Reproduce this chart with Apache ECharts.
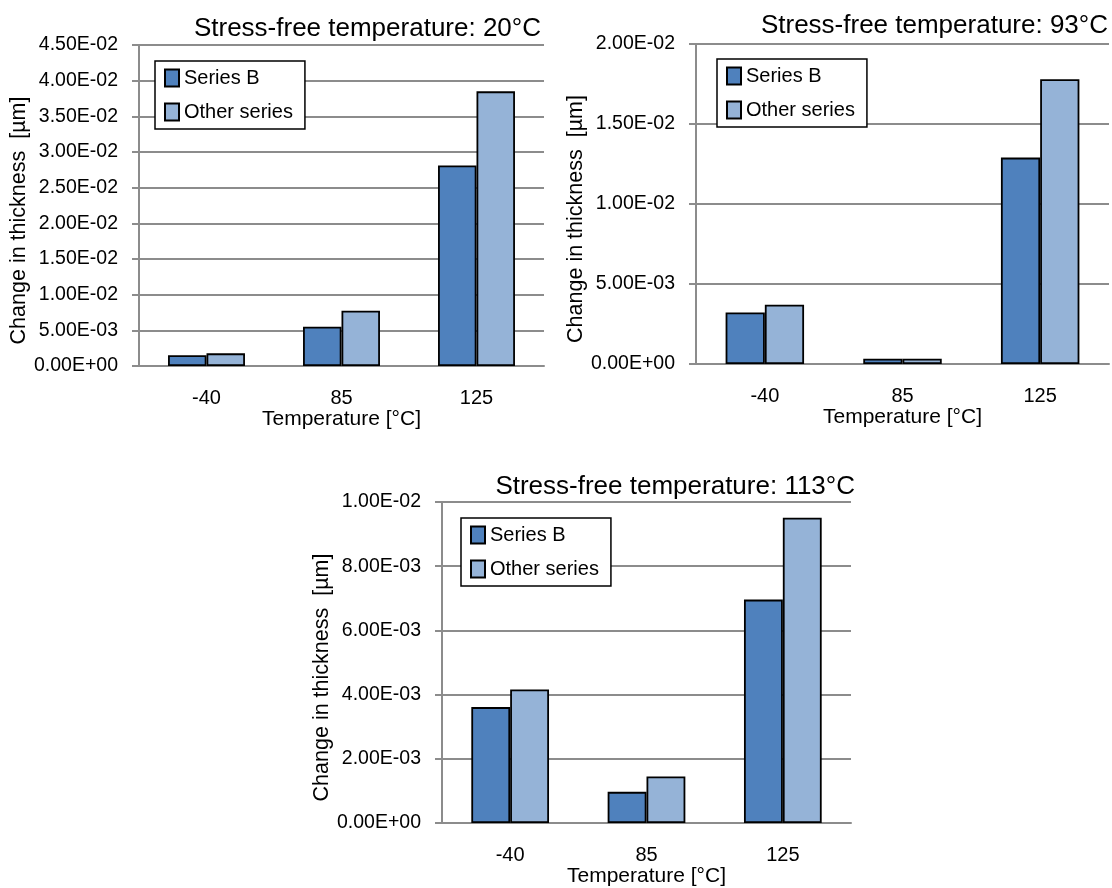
<!DOCTYPE html>
<html>
<head>
<meta charset="utf-8">
<script src="https://cdn.jsdelivr.net/npm/echarts@6/dist/echarts.min.js"></script>
<style>
html,body{margin:0;padding:0;background:#fff;}
#c{width:1112px;height:888px;}
</style>
</head>
<body>
<div id="c"></div>
<script>
// ---- data ----
const categories = ['-40', '85', '125'];
const seriesNames = ['Series B', 'Other series'];
const titles = ['Stress-free temperature: 20°C', 'Stress-free temperature: 93°C', 'Stress-free temperature: 113°C'];

const sf20_seriesB = [0.0015, 0.0055, 0.0281];
const sf20_other   = [0.00177, 0.00775, 0.0385];
const sf93_seriesB = [0.00322, 0.00033, 0.0129];
const sf93_other   = [0.0037, 0.00033, 0.0178];
const sf113_seriesB = [0.00361, 0.00097, 0.00696];
const sf113_other   = [0.00416, 0.00145, 0.00951];

const yMax = [0.045, 0.02, 0.01];
const yInterval = [0.005, 0.005, 0.002];

const xName = 'Temperature [°C]';
const yName = 'Change in thickness  [µm]';

// ---- style / layout ----
const FONT = 'Liberation Sans';
const colorB = '#4F81BD';
const colorO = '#95B3D7';
const gridColor = '#8C8C8C';

const grids = [
  {left: 139, top: 45, width: 405, height: 321},
  {left: 696, top: 44, width: 413, height: 320},
  {left: 442, top: 502, width: 409, height: 321}
];
const titlePos = [
  {right: 571, top: 16},
  {right: 4, top: 13},
  {right: 257, top: 474}
];
const legendPos = [
  {left: 155, top: 61},
  {left: 717, top: 59},
  {left: 461, top: 518}
];

function fmt(v) {
  if (Math.abs(v) < 1e-12) return '0.00E+00';
  const s = v.toExponential(2).toUpperCase();
  const m = s.match(/^(-?[\d.]+)E([+-])(\d+)$/);
  let e = m[3];
  if (e.length < 2) e = '0' + e;
  return m[1] + 'E' + m[2] + e;
}

const dataSets = [
  [sf20_seriesB, sf20_other],
  [sf93_seriesB, sf93_other],
  [sf113_seriesB, sf113_other]
];

const option = {
  animation: false,
  backgroundColor: '#fff',
  textStyle: {fontFamily: FONT, color: '#000'},
  title: titles.map((t, i) => ({
    text: t,
    right: titlePos[i].right,
    top: titlePos[i].top,
    padding: 0,
    textStyle: {fontFamily: FONT, fontSize: 26, fontWeight: 'normal', color: '#000'}
  })),
  legend: legendPos.map((p, i) => ({
    data: seriesNames,
    orient: 'vertical',
    left: p.left,
    top: p.top,
    padding: [7, 12, 7, 9],
    itemGap: 14,
    itemWidth: 14,
    itemHeight: 17,
    icon: 'rect',
    borderColor: '#000',
    borderWidth: 1.5,
    backgroundColor: '#fff',
    selectedMode: false,
    textStyle: {fontFamily: FONT, fontSize: 20, color: '#000', padding: [0, 0, 0, 0]}
  })),
  grid: grids,
  xAxis: grids.map((g, i) => ({
    type: 'category',
    gridIndex: i,
    data: categories,
    name: xName,
    nameLocation: 'middle',
    nameGap: 41,
    nameTextStyle: {fontFamily: FONT, fontSize: 21, color: '#000'},
    axisLine: {show: true, lineStyle: {color: gridColor, width: 2}},
    axisTick: {show: false},
    axisLabel: {fontFamily: FONT, fontSize: 20, color: '#000', margin: 22},
    splitLine: {show: false}
  })),
  yAxis: grids.map((g, i) => ({
    type: 'value',
    gridIndex: i,
    min: 0,
    max: yMax[i],
    interval: yInterval[i],
    name: yName,
    nameLocation: 'middle',
    nameGap: 100,
    nameTextStyle: {fontFamily: FONT, fontSize: 21.5, color: '#000', padding: [0, 30, 0, 0]},
    axisLine: {show: true, lineStyle: {color: gridColor, width: 2}},
    axisTick: {show: true, length: 7, lineStyle: {color: gridColor, width: 2}},
    axisLabel: {fontFamily: FONT, fontSize: 19.5, color: '#000', margin: 21, formatter: fmt},
    splitLine: {show: true, lineStyle: {color: gridColor, width: 2}}
  })),
  series: []
};

dataSets.forEach((pair, i) => {
  pair.forEach((vals, j) => {
    option.series.push({
      type: 'bar',
      name: seriesNames[j],
      xAxisIndex: i,
      yAxisIndex: i,
      data: vals,
      barGap: '0%',
      barCategoryGap: '43%',
      itemStyle: {color: j === 0 ? colorB : colorO, borderColor: '#000', borderWidth: 1.8}
    });
  });
});

const chart = echarts.init(document.getElementById('c'), null, {renderer: 'canvas'});
chart.setOption(option);
</script>
</body>
</html>
